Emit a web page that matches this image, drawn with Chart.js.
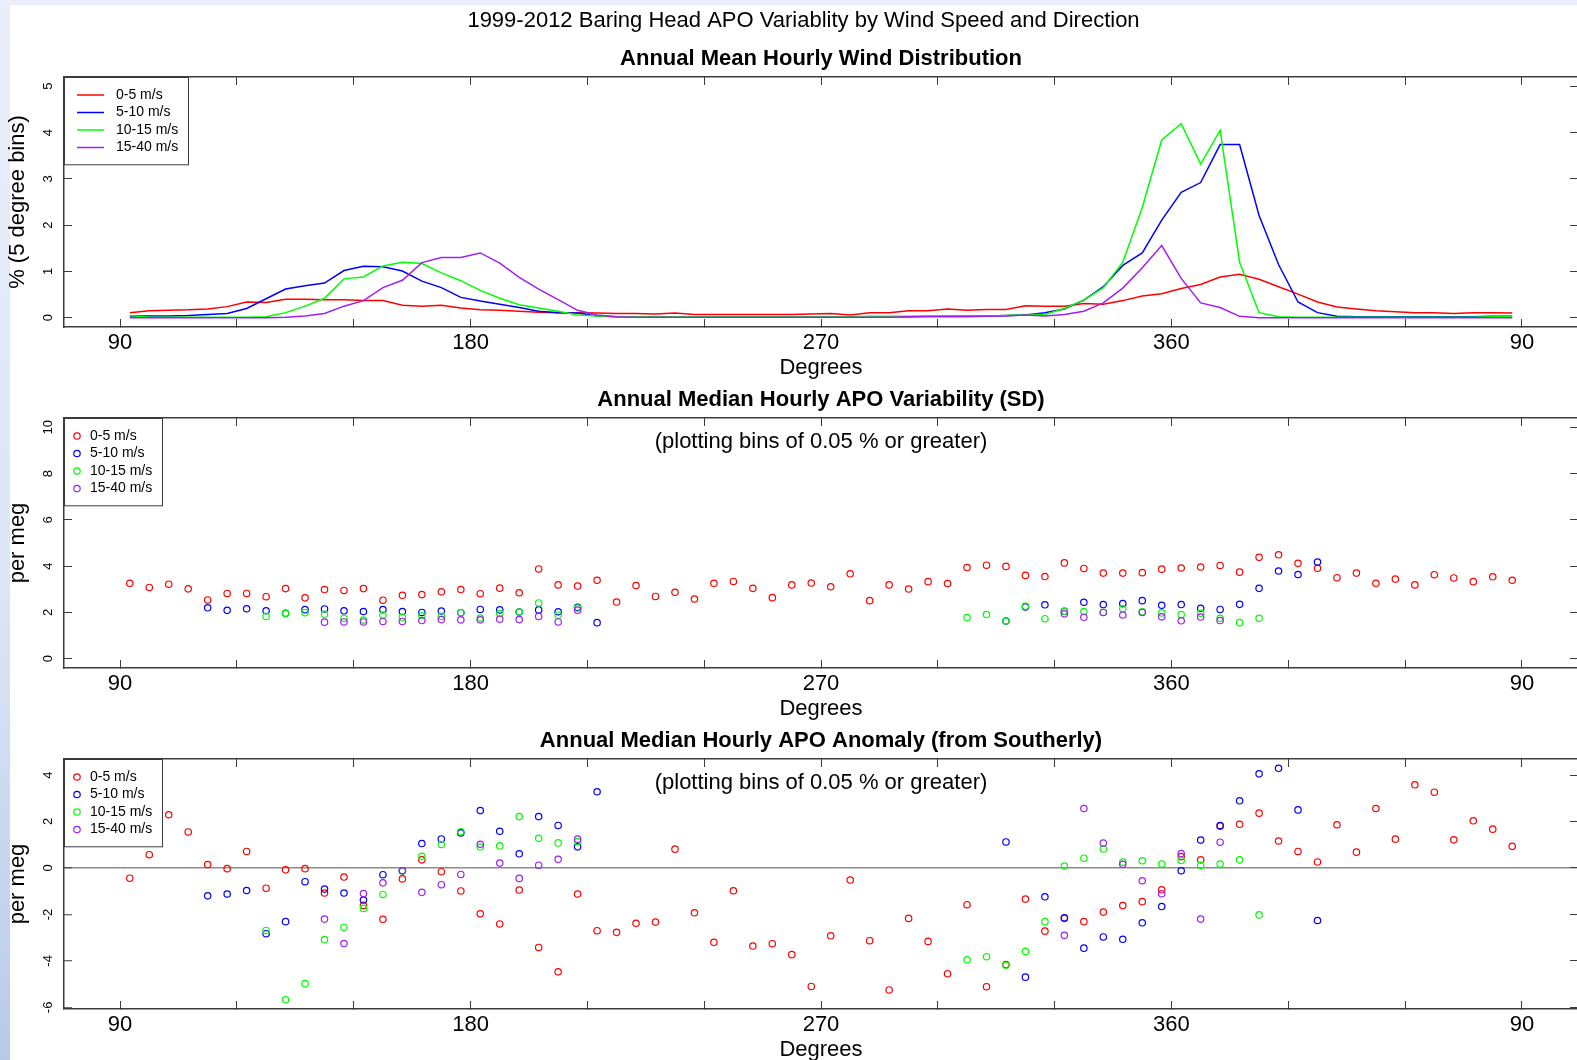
<!DOCTYPE html>
<html>
<head>
<meta charset="utf-8">
<title>Baring Head APO variability</title>
<script src="https://cdn.jsdelivr.net/npm/chart.js@4.4.1/dist/chart.umd.min.js"></script>
<style>
  html, body { margin: 0; padding: 0; width: 1577px; height: 1060px; overflow: hidden; }
  body { background: linear-gradient(180deg, #e9eef9 0%, #dde6f6 55%, #b7cbe8 100%); position: relative; }
  #sheet { position: absolute; left: 10px; top: 5px; right: 0; bottom: 0; background: #fff; }
  .panel { position: absolute; left: 0; }
</style>
</head>
<body>
<div id="sheet"></div>
<canvas id="windPanel" class="panel" width="1642" height="387" style="top:0px"></canvas>
<canvas id="sdPanel" class="panel" width="1642" height="387" style="top:341px"></canvas>
<canvas id="anomPanel" class="panel" width="1642" height="387" style="top:682px"></canvas>
<script>
// Baring Head APO, 1999-2012: wind distribution and APO statistics per 5 degree bin
const _ = null;

// 5 degree bin centres, 90 -> 360 -> 90 (past 360 the direction wraps)
const bins = [
  92.5, 97.5, 102.5, 107.5, 112.5, 117.5, 122.5, 127.5, 132.5, 137.5,
  142.5, 147.5, 152.5, 157.5, 162.5, 167.5, 172.5, 177.5, 182.5, 187.5,
  192.5, 197.5, 202.5, 207.5, 212.5, 217.5, 222.5, 227.5, 232.5, 237.5,
  242.5, 247.5, 252.5, 257.5, 262.5, 267.5, 272.5, 277.5, 282.5, 287.5,
  292.5, 297.5, 302.5, 307.5, 312.5, 317.5, 322.5, 327.5, 332.5, 337.5,
  342.5, 347.5, 352.5, 357.5, 362.5, 367.5, 372.5, 377.5, 382.5, 387.5,
  392.5, 397.5, 402.5, 407.5, 412.5, 417.5, 422.5, 427.5, 432.5, 437.5,
  442.5, 447.5
];

const xTickValues = [90, 120, 150, 180, 210, 240, 270, 300, 330, 360, 390, 420, 450];
const xTickLabels = ['90', '', '', '180', '', '', '270', '', '', '360', '', '', '90'];
const xRange = [75.6, 464.4];

const seriesLabels = ['0-5 m/s', '5-10 m/s', '10-15 m/s', '15-40 m/s'];
const seriesColors = ['#ff0000', '#0000ff', '#00ff00', '#a020f0'];

const windTicks = [0, 1, 2, 3, 4, 5];
const windRange = [-0.2, 5.2];
const sdTicks = [0, 2, 4, 6, 8, 10];
const sdRange = [-0.4, 10.4];
const anomTicks = [-6, -4, -2, 0, 2, 4];
const anomRange = [-6.07, 4.69];

// annual mean hourly wind distribution, % of hours per bin
const windCalm = [
  0.11, 0.15, 0.16, 0.17, 0.19, 0.24, 0.34, 0.33, 0.40, 0.40,
  0.39, 0.39, 0.37, 0.37, 0.27, 0.25, 0.27, 0.21, 0.17, 0.16,
  0.14, 0.12, 0.11, 0.11, 0.10, 0.09, 0.09, 0.08, 0.10, 0.07,
  0.07, 0.07, 0.07, 0.07, 0.07, 0.08, 0.09, 0.06, 0.11, 0.11,
  0.15, 0.15, 0.19, 0.16, 0.18, 0.18, 0.26, 0.25, 0.25, 0.31,
  0.29, 0.37, 0.47, 0.52, 0.63, 0.72, 0.88, 0.94, 0.83, 0.67,
  0.51, 0.34, 0.23, 0.19, 0.15, 0.13, 0.11, 0.11, 0.09, 0.11,
  0.11, 0.10
];
const windModerate = [
  0.04, 0.04, 0.04, 0.05, 0.07, 0.09, 0.20, 0.41, 0.62, 0.69,
  0.75, 1.02, 1.11, 1.10, 1.01, 0.79, 0.65, 0.44, 0.36, 0.29,
  0.22, 0.14, 0.11, 0.10, 0.04, 0.02, 0.02, 0.02, 0.02, 0.02,
  0.02, 0.02, 0.02, 0.02, 0.02, 0.02, 0.02, 0.02, 0.02, 0.02,
  0.02, 0.03, 0.04, 0.04, 0.04, 0.05, 0.06, 0.11, 0.19, 0.38,
  0.67, 1.13, 1.40, 2.11, 2.71, 2.92, 3.74, 3.74, 2.21, 1.15,
  0.34, 0.11, 0.03, 0.02, 0.02, 0.02, 0.02, 0.02, 0.02, 0.02,
  0.03, 0.03
];
const windFresh = [
  0.05, 0.01, 0.01, 0.01, 0.01, 0.01, 0.01, 0.02, 0.11, 0.25,
  0.42, 0.84, 0.88, 1.12, 1.20, 1.17, 0.97, 0.80, 0.59, 0.42,
  0.28, 0.21, 0.14, 0.06, 0.04, 0.02, 0.02, 0.02, 0.02, 0.02,
  0.02, 0.02, 0.02, 0.02, 0.02, 0.02, 0.02, 0.02, 0.03, 0.03,
  0.03, 0.04, 0.04, 0.04, 0.04, 0.05, 0.07, 0.07, 0.20, 0.38,
  0.65, 1.20, 2.38, 3.84, 4.19, 3.32, 4.05, 1.20, 0.11, 0.02,
  0.01, 0.01, 0.01, 0.01, 0.01, 0.01, 0.01, 0.01, 0.01, 0.01,
  0.02, 0.02
];
const windStrong = [
  0.00, 0.00, 0.00, 0.00, 0.00, 0.00, 0.00, 0.00, 0.01, 0.04,
  0.09, 0.25, 0.37, 0.65, 0.81, 1.19, 1.30, 1.30, 1.40, 1.18,
  0.87, 0.62, 0.39, 0.16, 0.06, 0.02, 0.01, 0.01, 0.01, 0.01,
  0.01, 0.01, 0.01, 0.01, 0.01, 0.01, 0.01, 0.01, 0.01, 0.01,
  0.02, 0.02, 0.02, 0.02, 0.03, 0.04, 0.06, 0.04, 0.07, 0.14,
  0.32, 0.64, 1.08, 1.56, 0.85, 0.32, 0.22, 0.03, 0.00, 0.00,
  0.00, 0.00, 0.00, 0.00, 0.00, 0.00, 0.00, 0.00, 0.00, 0.00,
  0.00, 0.00
];

// annual median hourly APO standard deviation, per meg
const sdCalm = [
  3.26, 3.08, 3.22, 3.02, 2.54, 2.82, 2.82, 2.68, 3.03, 2.63,
  2.99, 2.95, 3.03, 2.53, 2.74, 2.77, 2.89, 2.99, 2.81, 3.05,
  2.85, 3.88, 3.19, 3.14, 3.39, 2.45, 3.16, 2.69, 2.87, 2.58,
  3.26, 3.34, 3.04, 2.64, 3.19, 3.27, 3.11, 3.67, 2.51, 3.19,
  3.01, 3.33, 3.25, 3.94, 4.04, 3.99, 3.60, 3.55, 4.14, 3.90,
  3.70, 3.70, 3.72, 3.87, 3.92, 3.96, 4.03, 3.74, 4.38, 4.49,
  4.12, 3.91, 3.50, 3.70, 3.26, 3.44, 3.19, 3.63, 3.49, 3.33,
  3.54, 3.39
];
const sdModerate = [
  _, _, _, _, 2.20, 2.09, 2.16, 2.07, 1.96, 2.12,
  2.15, 2.07, 2.04, 2.12, 2.04, 2.00, 2.06, 1.99, 2.13, 2.11,
  2.02, 2.11, 2.03, 2.22, 1.56, _, _, _, _, _,
  _, _, _, _, _, _, _, _, _, _,
  _, _, _, _, _, 1.63, 2.24, 2.33, 2.05, 2.44,
  2.34, 2.38, 2.51, 2.31, 2.34, 2.18, 2.13, 2.35, 3.04, 3.79,
  3.64, 4.18, _, _, _, _, _, _, _, _,
  _, _
];
const sdFresh = [
  _, _, _, _, _, _, _, 1.83, 1.96, 1.99,
  1.92, 1.74, 1.67, 1.89, 1.79, 1.86, 1.83, 1.99, 1.76, 1.95,
  2.02, 2.41, 1.88, 2.19, _, _, _, _, _, _,
  _, _, _, _, _, _, _, _, _, _,
  _, _, _, 1.78, 1.91, 1.63, 2.27, 1.73, 2.05, 2.04,
  2.01, 2.16, 2.03, 1.98, 1.91, 1.96, 1.75, 1.56, 1.75, _,
  _, _, _, _, _, _, _, _, _, _,
  _, _
];
const sdStrong = [
  _, _, _, _, _, _, _, _, _, _,
  1.58, 1.59, 1.59, 1.61, 1.61, 1.65, 1.69, 1.68, 1.68, 1.71,
  1.69, 1.83, 1.59, 2.10, _, _, _, _, _, _,
  _, _, _, _, _, _, _, _, _, _,
  _, _, _, _, _, _, _, _, 1.94, 1.79,
  2.00, 1.89, 2.00, 1.81, 1.64, 1.80, 1.65, _, _, _,
  _, _, _, _, _, _, _, _, _, _,
  _, _
];

// annual median hourly APO anomaly from the southerly sector, per meg
const anomCalm = [
  -0.44, 0.57, 2.29, 1.55, 0.15, -0.03, 0.71, -0.87, -0.08, -0.03,
  -1.08, -0.39, -1.61, -2.21, -0.47, 0.35, -0.16, -0.99, -1.97, -2.41,
  -0.95, -3.42, -4.47, -1.12, -2.70, -2.77, -2.38, -2.33, 0.81, -1.93,
  -3.20, -0.98, -3.36, -3.26, -3.73, -5.10, -2.92, -0.52, -3.13, -5.25,
  -2.17, -3.16, -4.55, -1.58, -5.11, -4.16, -1.34, -2.72, -2.17, -2.31,
  -1.90, -1.62, -1.45, -0.94, 0.49, 0.35, 1.80, 1.88, 2.36, 1.16,
  0.71, 0.26, 1.86, 0.68, 2.56, 1.24, 3.58, 3.26, 1.21, 2.03,
  1.67, 0.93
];
const anomModerate = [
  _, _, _, _, -1.20, -1.12, -0.97, -2.83, -2.31, -0.59,
  -0.91, -1.08, -1.38, -0.29, -0.12, 1.05, 1.25, 1.51, 2.47, 1.58,
  0.61, 2.21, 1.83, 0.91, 3.28, _, _, _, _, _,
  _, _, _, _, _, _, _, _, _, _,
  _, _, _, _, _, 1.12, -4.70, -1.24, -2.14, -3.45,
  -2.97, -3.07, -2.36, -1.66, -0.12, 1.20, 1.83, 2.89, 4.05, 4.29,
  2.50, -2.26, _, _, _, _, _, _, _, _,
  _, _
];
const anomFresh = [
  _, _, _, _, _, _, _, -2.69, -5.67, -4.98,
  -3.08, -2.55, -1.74, -1.14, -0.13, 0.50, 1.01, 1.56, 0.90, 0.95,
  2.21, 1.28, 1.08, 1.14, _, _, _, _, _, _,
  _, _, _, _, _, _, _, _, _, _,
  _, _, _, -3.95, -3.82, -4.19, -3.59, -2.31, 0.08, 0.42,
  0.82, 0.25, 0.31, 0.17, 0.32, 0.11, 0.17, 0.35, -2.02, _,
  _, _, _, _, _, _, _, _, _, _,
  _, _
];
const anomStrong = [
  _, _, _, _, _, _, _, _, _, _,
  -2.20, -3.25, -1.10, -0.64, -0.12, -1.05, -0.72, -0.28, 1.02, 0.21,
  -0.45, 0.12, 0.37, 1.24, _, _, _, _, _, _,
  _, _, _, _, _, _, _, _, _, _,
  _, _, _, _, _, _, _, _, -2.90, 2.56,
  1.07, 0.16, -0.55, -1.11, 0.62, -2.20, 1.11, _, _, _,
  _, _, _, _, _, _, _, _, _, _,
  _, _
];

const FONT = '"Liberation Sans", Arial, Helvetica, sans-serif';
const INK = '#000000';
const FRAME = '#3c3c3c';
const ZERO = '#8c8c8c';

// titles, the in-plot note and an R style legend box in the top left corner
const rDecor = {
  id: 'rDecor',
  afterDraw(chart, args, opts) {
    const ctx = chart.ctx;
    const a = chart.chartArea;
    const cx = (a.left + a.right) / 2;
    ctx.save();
    ctx.fillStyle = INK;
    ctx.textAlign = 'center';
    ctx.textBaseline = 'middle';
    if (opts.mainTitle) {
      ctx.font = '22px ' + FONT;
      ctx.fillText(opts.mainTitle, 803.5, a.top - 56.4);
    }
    ctx.font = 'bold 22px ' + FONT;
    ctx.fillText(opts.heading, cx, a.top - 18.4);
    if (opts.note) {
      ctx.font = '22px ' + FONT;
      ctx.fillText(opts.note, cx, a.top + 24);
    }

    // legend
    const w = opts.lines ? 124 : 98;
    const h = 87.3;
    ctx.fillStyle = '#ffffff';
    ctx.fillRect(a.left, a.top, w, h);
    ctx.strokeStyle = FRAME;
    ctx.lineWidth = 1;
    ctx.strokeRect(a.left + 0.5, a.top + 0.5, w, h);
    const rows = [18, 35.5, 53, 70.5];
    ctx.font = '14px ' + FONT;
    ctx.textAlign = 'left';
    chart.data.datasets.forEach((ds, k) => {
      const y = a.top + rows[k];
      ctx.strokeStyle = ds.borderColor;
      ctx.beginPath();
      if (opts.lines) {
        ctx.lineWidth = 1.5;
        ctx.moveTo(a.left + 13, y);
        ctx.lineTo(a.left + 40, y);
      } else {
        ctx.lineWidth = 1.2;
        ctx.arc(a.left + 13, y, 3.2, 0, Math.PI * 2);
      }
      ctx.stroke();
      ctx.fillStyle = INK;
      ctx.fillText(ds.label, a.left + (opts.lines ? 52 : 26), y);
    });
    ctx.restore();
  }
};

function toPoints(values) {
  return bins.map((x, i) => ({ x: x, y: values[i] })).filter(p => p.y !== null);
}

function makeDatasets(seriesList, asLines) {
  return seriesList.map((values, k) => ({
    label: seriesLabels[k],
    data: toPoints(values),
    borderColor: seriesColors[k],
    backgroundColor: 'rgba(0,0,0,0)',
    showLine: asLines,
    borderWidth: 1.5,
    pointRadius: asLines ? 0 : 3.2,
    pointBorderWidth: 1.2,
    pointHoverRadius: 0,
    // later speed classes are drawn on top, as in the original plot
    order: seriesList.length - k
  }));
}

function fixedTicks(values) {
  return scale => { scale.ticks = values.map(v => ({ value: v })); };
}

function buildPanel(canvasId, p) {
  const frame = { display: true, color: FRAME, width: 1.5 };
  const inTicks = { drawOnChartArea: false, drawTicks: true, tickLength: -8, color: FRAME, tickColor: FRAME, tickWidth: 1 };
  const yGrid = p.zeroLine
    ? {
        drawOnChartArea: true, drawTicks: true, tickLength: -8, tickColor: FRAME, tickWidth: 1,
        color: c => (c.tick && c.tick.value === 0 ? ZERO : 'rgba(0,0,0,0)'),
        lineWidth: 1.5
      }
    : inTicks;

  return new Chart(document.getElementById(canvasId), {
    type: 'scatter',
    data: { datasets: makeDatasets(p.series, p.lines) },
    options: {
      responsive: false,
      animation: false,
      events: [],
      layout: { padding: { top: 77, right: 64, bottom: 0, left: 0 } },
      plugins: {
        legend: { display: false },
        title: { display: false },
        tooltip: { enabled: false },
        rDecor: { mainTitle: p.mainTitle, heading: p.heading, note: p.note, lines: p.lines }
      },
      scales: {
        x: {
          type: 'linear', position: 'bottom', min: xRange[0], max: xRange[1],
          afterBuildTicks: fixedTicks(xTickValues),
          afterFit: s => { s.height = 60; },
          grid: inTicks,
          border: frame,
          ticks: {
            autoSkip: false, maxRotation: 0, padding: 11, color: INK,
            font: { family: FONT, size: 22 },
            callback: v => xTickLabels[xTickValues.indexOf(v)]
          },
          title: { display: true, text: 'Degrees', color: INK, font: { family: FONT, size: 22 }, padding: { top: 0, bottom: 5.5 } }
        },
        xTop: {
          type: 'linear', position: 'top', min: xRange[0], max: xRange[1],
          afterBuildTicks: fixedTicks(xTickValues),
          afterFit: s => { s.height = 0; },
          grid: inTicks,
          border: frame,
          ticks: { display: false }
        },
        y: {
          type: 'linear', position: 'left', min: p.range[0], max: p.range[1],
          afterBuildTicks: fixedTicks(p.ticks),
          afterFit: s => { s.width = 64; },
          grid: yGrid,
          border: frame,
          ticks: {
            crossAlign: 'center', minRotation: 90, maxRotation: 90, padding: p.tickPad,
            color: INK, font: { family: FONT, size: 13 }
          },
          title: { display: true, text: p.yTitle, color: INK, font: { family: FONT, size: 22 }, padding: { top: 4.3, bottom: 0 } }
        },
        yRight: {
          type: 'linear', position: 'right', min: p.range[0], max: p.range[1],
          afterBuildTicks: fixedTicks(p.ticks),
          afterFit: s => { s.width = 0; },
          grid: inTicks,
          border: frame,
          ticks: { display: false }
        }
      }
    },
    plugins: [rDecor]
  });
}

buildPanel('windPanel', {
  mainTitle: '1999-2012 Baring Head APO Variablity by Wind Speed and Direction',
  heading: 'Annual Mean Hourly Wind Distribution',
  yTitle: '% (5 degree bins)',
  series: [windCalm, windModerate, windFresh, windStrong],
  lines: true,
  ticks: windTicks, range: windRange, tickPad: 20
});

buildPanel('sdPanel', {
  heading: 'Annual Median Hourly APO Variability (SD)',
  note: '(plotting bins of 0.05 % or greater)',
  yTitle: 'per meg',
  series: [sdCalm, sdModerate, sdFresh, sdStrong],
  lines: false,
  ticks: sdTicks, range: sdRange, tickPad: 16.3
});

buildPanel('anomPanel', {
  heading: 'Annual Median Hourly APO Anomaly (from Southerly)',
  note: '(plotting bins of 0.05 % or greater)',
  yTitle: 'per meg',
  series: [anomCalm, anomModerate, anomFresh, anomStrong],
  lines: false,
  zeroLine: true,
  ticks: anomTicks, range: anomRange, tickPad: 17.7
});
</script>
</body>
</html>
